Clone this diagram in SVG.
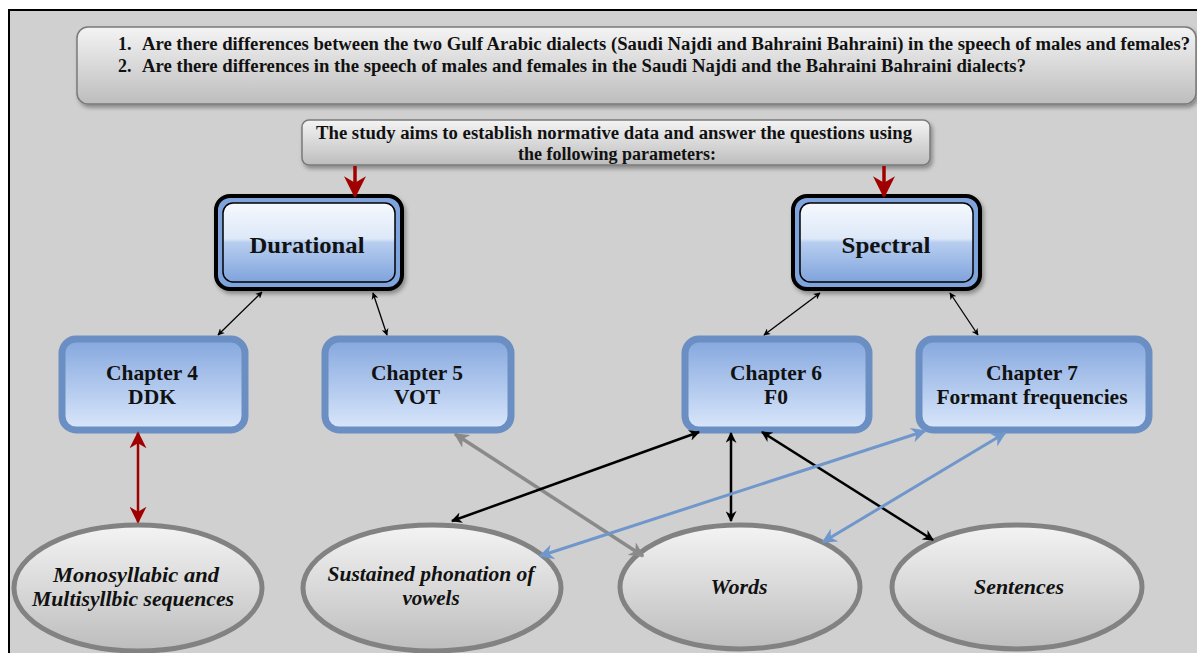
<svg xmlns="http://www.w3.org/2000/svg" width="1197" height="653" viewBox="0 0 1197 653">
<defs>
<linearGradient id="gGray" x1="0" y1="0" x2="0" y2="1">
<stop offset="0" stop-color="#f4f4f4"/><stop offset="1" stop-color="#bdbdbd"/>
</linearGradient>
<linearGradient id="gHead" x1="0" y1="0" x2="0" y2="1">
<stop offset="0" stop-color="#f6f9fe"/><stop offset="0.45" stop-color="#dde8f8"/><stop offset="0.5" stop-color="#b8cef0"/><stop offset="1" stop-color="#7fa3dc"/>
</linearGradient>
<linearGradient id="gChap" x1="0" y1="0" x2="0" y2="1">
<stop offset="0" stop-color="#84a7de"/><stop offset="1" stop-color="#dae7fb"/>
</linearGradient>
<marker id="aBk" viewBox="0 0 10 10" refX="9" refY="5" markerWidth="7" markerHeight="7" orient="auto-start-reverse" markerUnits="userSpaceOnUse"><path d="M0,0 L10,5 L0,10 L3,5 z" fill="#000"/></marker>
<marker id="aBk2" viewBox="0 0 10 10" refX="9" refY="5" markerWidth="11" markerHeight="11" orient="auto-start-reverse" markerUnits="userSpaceOnUse"><path d="M0,0 L10,5 L0,10 L3,5 z" fill="#000"/></marker>
<marker id="aRd" viewBox="0 0 10 10" refX="9" refY="5" markerWidth="17" markerHeight="17" orient="auto-start-reverse" markerUnits="userSpaceOnUse"><path d="M0,0 L10,5 L0,10 L3,5 z" fill="#a00000"/></marker>
<marker id="aRdBig" viewBox="0 0 10 10" refX="9" refY="5" markerWidth="22" markerHeight="22" orient="auto" markerUnits="userSpaceOnUse"><path d="M0,0 L10,5 L0,10 L3,5 z" fill="#a00000"/></marker>
<marker id="aGy" viewBox="0 0 10 10" refX="9" refY="5" markerWidth="15" markerHeight="15" orient="auto-start-reverse" markerUnits="userSpaceOnUse"><path d="M0,0 L10,5 L0,10 L3,5 z" fill="#8a8a8a"/></marker>
<marker id="aBl" viewBox="0 0 10 10" refX="9" refY="5" markerWidth="15" markerHeight="15" orient="auto-start-reverse" markerUnits="userSpaceOnUse"><path d="M0,0 L10,5 L0,10 L3,5 z" fill="#7097cb"/></marker>
<filter id="sh" x="-10%" y="-10%" width="130%" height="140%"><feDropShadow dx="2" dy="3" stdDeviation="2" flood-color="#000" flood-opacity="0.35"/></filter>
</defs>
<style>
text{font-family:"Liberation Serif","Times New Roman",serif;font-weight:bold;fill:#111;}
.q{font-size:18px;}
.m{font-size:18px;text-anchor:middle;}
.h{font-size:24px;text-anchor:middle;}
.c{font-size:21.5px;text-anchor:middle;}
.e{font-size:21px;text-anchor:middle;font-style:italic;}
.grayBox{fill:url(#gGray);stroke:#7a7a7a;stroke-width:1.5;}
.chap{fill:url(#gChap);stroke:#6b8fc2;stroke-width:7;}
.ell{fill:url(#gGray);stroke:#828282;stroke-width:5;}
.thin{stroke:#000;stroke-width:1.3;fill:none;marker-start:url(#aBk);marker-end:url(#aBk);}
.blk{stroke:#000;stroke-width:2.5;fill:none;marker-start:url(#aBk2);marker-end:url(#aBk2);}
.red{stroke:#a00000;stroke-width:2.5;fill:none;}
.redT{stroke:#a00000;stroke-width:3.5;fill:none;marker-end:url(#aRdBig);}
.gry{stroke:#8a8a8a;stroke-width:3.5;fill:none;marker-start:url(#aGy);marker-end:url(#aGy);}
.blu{stroke:#7097cb;stroke-width:3;fill:none;marker-start:url(#aBl);marker-end:url(#aBl);}
</style>
<rect x="0" y="0" width="1197" height="653" fill="#ffffff"/>
<rect x="9" y="10" width="1200" height="660" fill="#d0d0d0" stroke="#000" stroke-width="2"/>

<g id="questions">
<rect class="grayBox" x="77" y="27" width="1119" height="77" rx="11" filter="url(#sh)"/>
<text class="q" x="118" y="50">1.</text>
<text class="q" x="142" y="50" textLength="1048" lengthAdjust="spacingAndGlyphs">Are there differences between the two Gulf Arabic dialects (Saudi Najdi and Bahraini Bahraini) in the speech of males and females?</text>
<text class="q" x="118" y="72">2.</text>
<text class="q" x="142" y="72" textLength="884" lengthAdjust="spacingAndGlyphs">Are there differences in the speech of males and females in the Saudi Najdi and the Bahraini Bahraini dialects?</text>
</g>

<g id="aims">
<rect class="grayBox" x="302" y="120" width="628" height="45" rx="7" filter="url(#sh)"/>
<text class="m" x="614" y="139" textLength="596" lengthAdjust="spacingAndGlyphs">The study aims to establish normative data and answer the questions using</text>
<text class="m" x="617" y="160">the following parameters:</text>
</g>

<g id="durational">
<rect x="216" y="196" width="186" height="93" rx="14" fill="#7fa3dc" stroke="#000" stroke-width="4" filter="url(#sh)"/>
<rect x="223" y="203" width="172" height="79" rx="10" fill="url(#gHead)" stroke="#000" stroke-width="1.5"/>
<text class="h" x="307" y="253" textLength="115" lengthAdjust="spacingAndGlyphs">Durational</text>
</g>

<g id="spectral">
<rect x="793" y="196" width="187" height="93" rx="14" fill="#7fa3dc" stroke="#000" stroke-width="4" filter="url(#sh)"/>
<rect x="800" y="203" width="173" height="79" rx="10" fill="url(#gHead)" stroke="#000" stroke-width="1.5"/>
<text class="h" x="886" y="253" textLength="89" lengthAdjust="spacingAndGlyphs">Spectral</text>
</g>

<g id="ch4">
<rect class="chap" x="62" y="339" width="183" height="91" rx="14"/>
<text class="c" x="152" y="380" textLength="92" lengthAdjust="spacingAndGlyphs">Chapter 4</text>
<text class="c" x="152" y="404">DDK</text>
</g>
<g id="ch5">
<rect class="chap" x="325" y="339" width="186" height="91" rx="14"/>
<text class="c" x="417" y="380" textLength="92" lengthAdjust="spacingAndGlyphs">Chapter 5</text>
<text class="c" x="417" y="404">VOT</text>
</g>
<g id="ch6">
<rect class="chap" x="685" y="339" width="184" height="91" rx="14"/>
<text class="c" x="776" y="380" textLength="92" lengthAdjust="spacingAndGlyphs">Chapter 6</text>
<text class="c" x="776" y="404">F0</text>
</g>
<g id="ch7">
<rect class="chap" x="919" y="339" width="230" height="91" rx="14"/>
<text class="c" x="1032" y="380" textLength="92" lengthAdjust="spacingAndGlyphs">Chapter 7</text>
<text class="c" x="1032" y="404" textLength="191" lengthAdjust="spacingAndGlyphs">Formant frequencies</text>
</g>

<g id="mono">
<ellipse class="ell" cx="138" cy="588" rx="124" ry="63"/>
<text class="e" x="136" y="582" textLength="166" lengthAdjust="spacingAndGlyphs">Monosyllabic  and</text>
<text class="e" x="133" y="606" textLength="202" lengthAdjust="spacingAndGlyphs">Multisyllbic sequences</text>
</g>
<g id="sustained">
<ellipse class="ell" cx="432" cy="588" rx="129" ry="63"/>
<text class="e" x="431" y="581" textLength="207" lengthAdjust="spacingAndGlyphs">Sustained phonation of</text>
<text class="e" x="431" y="605">vowels</text>
</g>
<g id="words">
<ellipse class="ell" cx="740" cy="587" rx="120" ry="62"/>
<text class="e" x="739" y="594" textLength="57" lengthAdjust="spacingAndGlyphs">Words</text>
</g>
<g id="sentences">
<ellipse class="ell" cx="1017" cy="587" rx="125" ry="62"/>
<text class="e" x="1019" y="594" textLength="90" lengthAdjust="spacingAndGlyphs">Sentences</text>
</g>

<g id="connectors">
<line class="redT" x1="355" y1="166" x2="355" y2="196"/>
<line class="redT" x1="884" y1="166" x2="884" y2="196"/>
<line class="thin" x1="262" y1="292" x2="218" y2="335"/>
<line class="thin" x1="373" y1="293" x2="387" y2="335"/>
<line class="thin" x1="820" y1="293" x2="764" y2="335"/>
<line class="thin" x1="950" y1="293" x2="978" y2="335"/>
<line class="red" x1="138" y1="433" x2="138" y2="522" marker-start="url(#aRd)" marker-end="url(#aRd)"/>
<line class="gry" x1="455" y1="434" x2="643" y2="556"/>
<line class="blk" x1="699" y1="432" x2="452" y2="521"/>
<line class="blk" x1="731" y1="433" x2="731" y2="521"/>
<line class="blk" x1="762" y1="432" x2="933" y2="540"/>
<line class="blu" x1="925" y1="431" x2="540" y2="556"/>
<line class="blu" x1="1005" y1="433" x2="823" y2="542"/>
</g>
</svg>
